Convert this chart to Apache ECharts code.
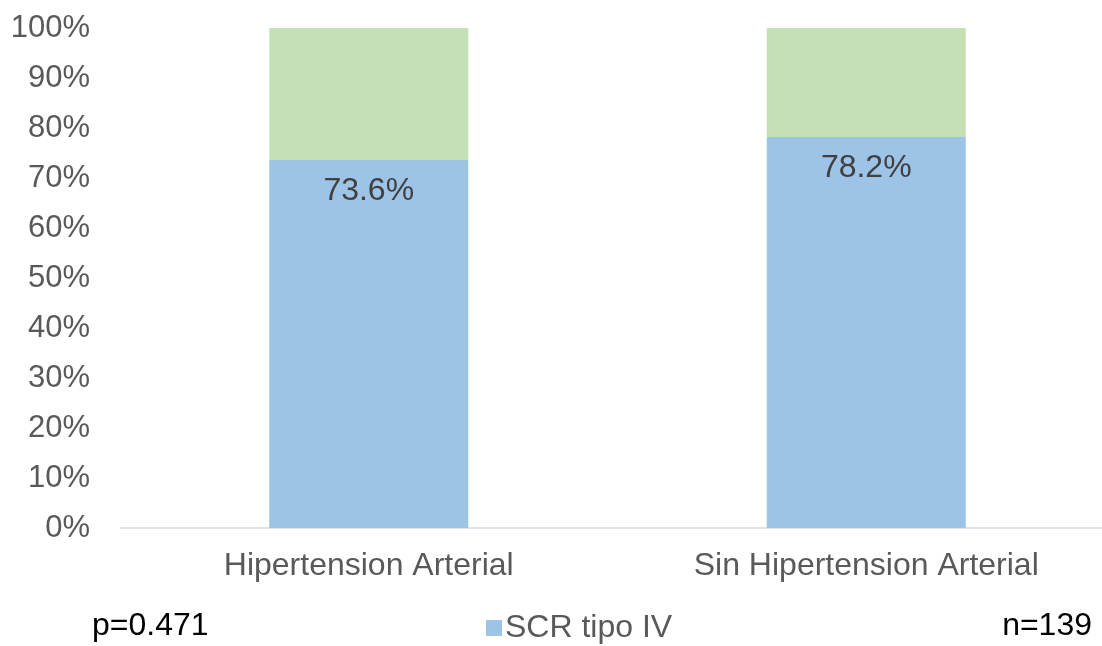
<!DOCTYPE html>
<html>
<head>
<meta charset="utf-8">
<title>SCR tipo IV</title>
<script src="https://cdn.jsdelivr.net/npm/echarts@6/dist/echarts.min.js"></script>
<style>
html, body { margin: 0; padding: 0; background: #fff; }
#chart { width: 1102px; height: 646px; }
</style>
</head>
<body>
<div id="chart"></div>
<script>
var categories = ['Hipertension Arterial', 'Sin Hipertension Arterial'];
var scrIV = [73.6, 78.2];
var otros = [26.4, 21.8];
var yTicks = [0, 10, 20, 30, 40, 50, 60, 70, 80, 90, 100];
var pText = 'p=0.471';
var nText = 'n=139';

var font = '"Liberation Sans", Arial, sans-serif';

var myChart = echarts.init(document.getElementById('chart'));

var option = {
    animation: false,
    textStyle: { fontFamily: font },
    grid: {
        left: 120,
        top: 28,
        bottom: 118,
        width: 995,
        outerBoundsMode: 'none'
    },
    legend: {
        data: [{ name: 'SCR tipo IV', icon: 'rect' }],
        top: 607,
        left: 481,
        itemWidth: 16,
        itemHeight: 16,
        itemGap: 4,
        textStyle: { color: '#595959', fontSize: 32, fontFamily: font, padding: [0, 0, 0, -2] }
    },
    xAxis: {
        type: 'category',
        data: categories,
        axisLine: { lineStyle: { color: '#d9d9d9', width: 1.5 } },
        axisTick: { show: false },
        axisLabel: { color: '#595959', fontSize: 32, margin: 22, fontFamily: font }
    },
    yAxis: {
        type: 'value',
        min: yTicks[0],
        max: yTicks[yTicks.length - 1],
        interval: 10,
        splitLine: { show: false },
        axisLine: { show: false },
        axisTick: { show: false },
        axisLabel: {
            color: '#595959',
            fontSize: 31,
            margin: 30,
            fontFamily: font,
            formatter: function (v) { return v + '%'; }
        }
    },
    series: [{
        name: 'SCR tipo IV',
        type: 'bar',
        stack: 'total',
        data: scrIV,
        barWidth: 199,
        itemStyle: { color: '#9dc3e6' },
        label: {
            show: true,
            position: 'insideTop',
            distance: 15,
            color: '#404040',
            fontSize: 32,
            fontFamily: font,
            formatter: function (p) { return p.value.toFixed(1) + '%'; }
        }
    }, {
        name: 'Otros',
        type: 'bar',
        stack: 'total',
        data: otros,
        barWidth: 199,
        itemStyle: { color: '#c5e0b4' }
    }],
    graphic: [{
        type: 'text',
        left: 92,
        top: 610,
        style: { text: pText, fill: '#000', font: '32px ' + font }
    }, {
        type: 'text',
        right: 10,
        top: 610,
        style: { text: nText, fill: '#000', font: '32px ' + font }
    }]
};

myChart.setOption(option);
window.addEventListener('resize', function () {
    myChart.resize();
});
</script>
</body>
</html>
